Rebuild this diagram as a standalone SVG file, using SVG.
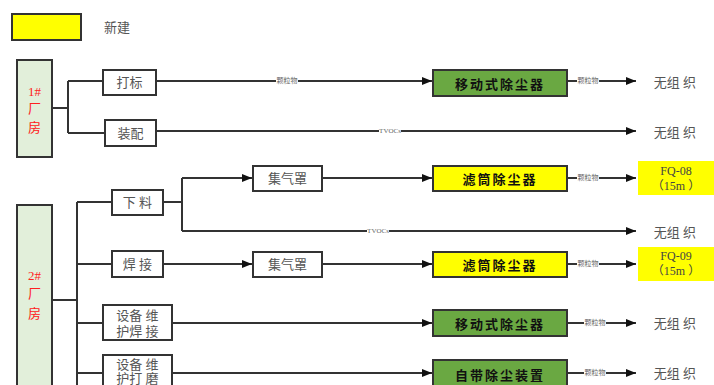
<svg xmlns="http://www.w3.org/2000/svg" width="714" height="385" viewBox="0 0 714 385">
<style>
.bx{fill:#fff;stroke:#333;stroke-width:2}
.fac{fill:#e2efda;stroke:#333;stroke-width:2}
.grn{fill:#6aa842;stroke:#333;stroke-width:2}
.yel{fill:#ffff00;stroke:#333;stroke-width:2}
.t{font-family:"Liberation Serif","Noto Sans CJK SC",serif;font-size:13px;fill:#555;text-anchor:middle;dominant-baseline:central}
.tb{font-family:"Noto Sans CJK SC",sans-serif;font-size:13px;font-weight:bold;fill:#111;text-anchor:middle;dominant-baseline:central;letter-spacing:2px}
.tr{font-family:"Liberation Serif","Noto Sans CJK SC",serif;font-size:13px;fill:#ff2020;text-anchor:middle;dominant-baseline:central}
.lb{font-family:"Liberation Serif","Noto Sans CJK SC",serif;font-size:7px;fill:#666;text-anchor:middle;dominant-baseline:central}
.lbg{fill:#fff}
.ln{fill:none;stroke:#333;stroke-width:2}
.fq{font-family:"Liberation Serif","Noto Sans CJK SC",serif;font-size:12px;fill:#444;text-anchor:middle;dominant-baseline:central}
</style>
<defs>
<marker id="ar" markerWidth="10" markerHeight="8" refX="10" refY="4" orient="auto" markerUnits="userSpaceOnUse">
<path d="M0,0 L10,4 L0,8 Z" fill="#111"/>
</marker>
</defs>
<g id="legend">
<rect x="12" y="14" width="69" height="26" class="yel"/>
<text x="117" y="27" class="t">新建</text>
</g>
<g id="connectors">
<path class="ln" d="M52,108 H68 M68,81 V133 M68,81 H103 M68,133 H105"/>
<path class="ln" d="M156,81 H432" marker-end="url(#ar)"/>
<path class="ln" d="M567,81 H636" marker-end="url(#ar)"/>
<path class="ln" d="M156,131 H636" marker-end="url(#ar)"/>
<path class="ln" d="M52,300 H77 M77,202 V385 M77,202 H112 M77,264 H112 M77,323 H103 M77,373 H103"/>
<path class="ln" d="M163,202 H182 M182,178 V231"/>
<path class="ln" d="M182,178 H252" marker-end="url(#ar)"/>
<path class="ln" d="M322,178 H432" marker-end="url(#ar)"/>
<path class="ln" d="M567,178 H636" marker-end="url(#ar)"/>
<path class="ln" d="M182,231 H636" marker-end="url(#ar)"/>
<path class="ln" d="M163,264 H252" marker-end="url(#ar)"/>
<path class="ln" d="M322,264 H432" marker-end="url(#ar)"/>
<path class="ln" d="M567,264 H636" marker-end="url(#ar)"/>
<path class="ln" d="M172,323 H432" marker-end="url(#ar)"/>
<path class="ln" d="M567,323 H636" marker-end="url(#ar)"/>
<path class="ln" d="M172,373 H432" marker-end="url(#ar)"/>
<path class="ln" d="M567,373 H636" marker-end="url(#ar)"/>
<rect x="276" y="77" width="22" height="8" class="lbg"/><text x="287" y="81" class="lb">颗粒物</text>
<rect x="577" y="77" width="22" height="8" class="lbg"/><text x="588" y="81" class="lb">颗粒物</text>
<rect x="379" y="127" width="22" height="8" class="lbg"/><text x="390" y="131" class="lb">TVOCs</text>
<rect x="577" y="174" width="22" height="8" class="lbg"/><text x="588" y="178" class="lb">颗粒物</text>
<rect x="367" y="227" width="22" height="8" class="lbg"/><text x="378" y="231" class="lb">TVOCs</text>
<rect x="577" y="260" width="22" height="8" class="lbg"/><text x="588" y="264" class="lb">颗粒物</text>
<rect x="584" y="319" width="22" height="8" class="lbg"/><text x="595" y="323" class="lb">颗粒物</text>
<rect x="584" y="369" width="22" height="8" class="lbg"/><text x="595" y="373" class="lb">颗粒物</text>
</g>
<g id="f1">
<rect x="17" y="60" width="35" height="97" class="fac"/>
<text x="34.5" y="91" class="tr">1#</text>
<text x="34.5" y="108" class="tr">厂</text>
<text x="34.5" y="127" class="tr">房</text>
</g>
<g id="f2">
<rect x="17" y="205" width="35" height="190" class="fac"/>
<text x="34.5" y="275" class="tr">2#</text>
<text x="34.5" y="293" class="tr">厂</text>
<text x="34.5" y="313" class="tr">房</text>
</g>
<g id="dabiao"><rect x="103" y="70" width="53" height="25" class="bx"/><text x="129.5" y="82.5" class="t">打标</text></g>
<g id="zhuangpei"><rect x="105" y="120" width="51" height="26" class="bx"/><text x="130.5" y="133" class="t">装配</text></g>
<g id="xialiao"><rect x="112" y="190" width="51" height="25" class="bx"/><text x="137.5" y="202.5" class="t">下 料</text></g>
<g id="hanjie"><rect x="112" y="251" width="51" height="26" class="bx"/><text x="137.5" y="264" class="t">焊 接</text></g>
<g id="whhj"><rect x="103" y="305" width="69" height="35" class="bx"/><text x="137.5" y="315" class="t">设备 维</text><text x="137.5" y="331" class="t">护焊 接</text></g>
<g id="whdm"><rect x="103" y="355" width="69" height="40" class="bx"/><text x="137.5" y="364" class="t">设备 维</text><text x="137.5" y="378" class="t">护打 磨</text></g>
<g id="jqz1"><rect x="253" y="166" width="69" height="25" class="bx"/><text x="287.5" y="178.5" class="t">集气罩</text></g>
<g id="jqz2"><rect x="253" y="252" width="69" height="25" class="bx"/><text x="287.5" y="264.5" class="t">集气罩</text></g>
<g id="yd1"><rect x="433" y="70" width="134" height="26" class="grn"/><text x="500" y="83" class="tb">移动式除尘器</text></g>
<g id="lt1"><rect x="433" y="166" width="134" height="25" class="yel"/><text x="500" y="178.5" class="tb">滤筒除尘器</text></g>
<g id="lt2"><rect x="433" y="252" width="134" height="25" class="yel"/><text x="500" y="264.5" class="tb">滤筒除尘器</text></g>
<g id="yd2"><rect x="433" y="310" width="134" height="26" class="grn"/><text x="500" y="323" class="tb">移动式除尘器</text></g>
<g id="zd"><rect x="433" y="360" width="134" height="30" class="grn"/><text x="500" y="374" class="tb">自带除尘装置</text></g>
<g id="out1"><text x="675" y="82" class="t">无组 织</text></g>
<g id="out2"><text x="675" y="132" class="t">无组 织</text></g>
<g id="fq08"><rect x="638" y="161" width="76" height="34" fill="#ffff00"/><text x="676" y="171" class="fq">FQ-08</text><text x="676" y="186" class="fq">（15m ）</text></g>
<g id="out3"><text x="675" y="232" class="t">无组 织</text></g>
<g id="fq09"><rect x="638" y="247" width="76" height="34" fill="#ffff00"/><text x="676" y="256" class="fq">FQ-09</text><text x="676" y="271" class="fq">（15m ）</text></g>
<g id="out4"><text x="675" y="323" class="t">无组 织</text></g>
<g id="out5"><text x="675" y="373" class="t">无组 织</text></g>
</svg>
